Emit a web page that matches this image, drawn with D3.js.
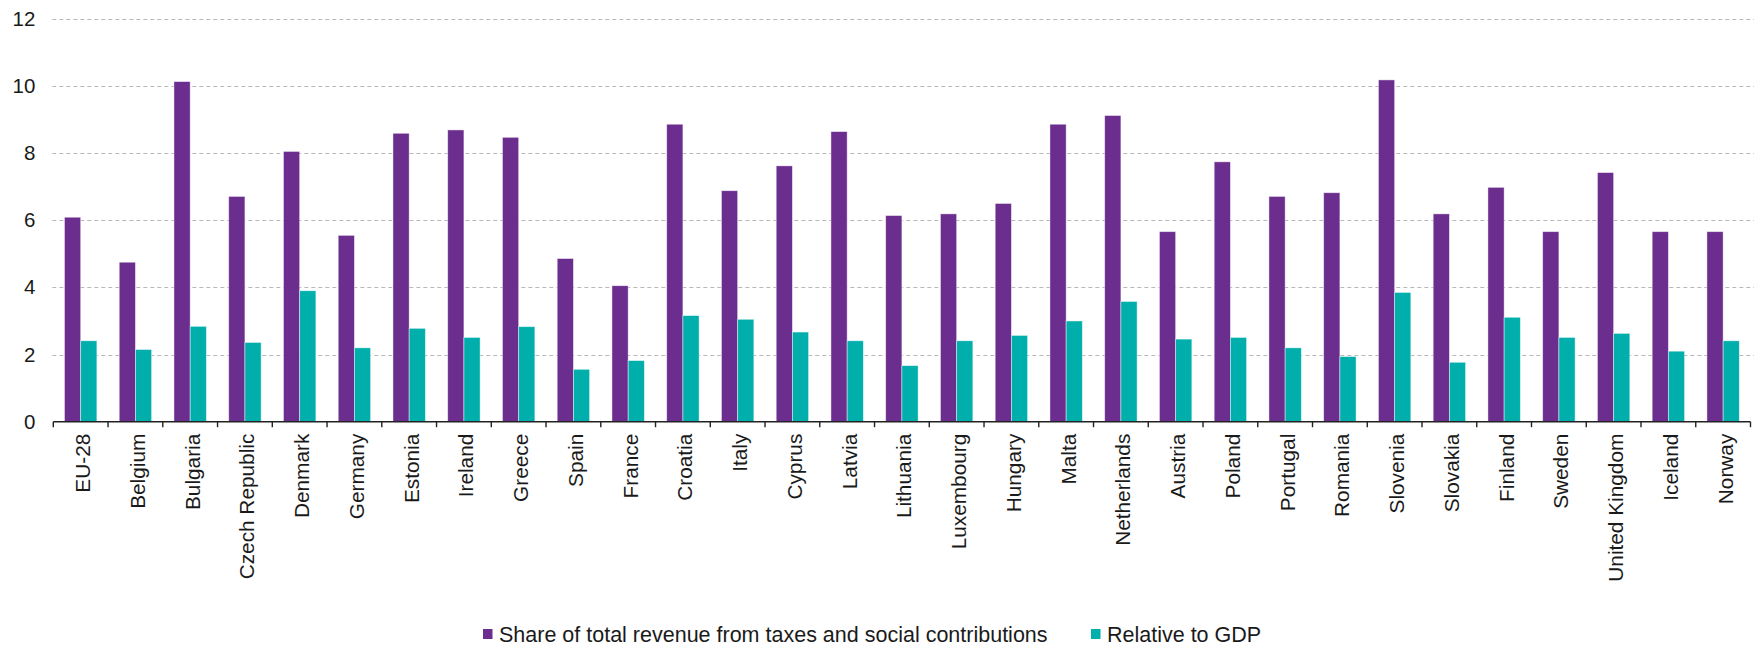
<!DOCTYPE html>
<html>
<head>
<meta charset="utf-8">
<script src="https://cdn.jsdelivr.net/npm/d3@7"></script>
<style>
  html, body { margin: 0; padding: 0; background: #fff; }
  svg { display: block; font-family: "Liberation Sans", Arial, sans-serif; }
</style>
</head>
<body>
<svg id="chart" width="1754" height="647"></svg>
<script>
const categories = ["EU-28","Belgium","Bulgaria","Czech Republic","Denmark","Germany","Estonia","Ireland","Greece","Spain","France","Croatia","Italy","Cyprus","Latvia","Lithuania","Luxembourg","Hungary","Malta","Netherlands","Austria","Poland","Portugal","Romania","Slovenia","Slovakia","Finland","Sweden","United Kingdom","Iceland","Norway"];
const shareOfRevenue = [6.09,4.75,10.13,6.71,8.05,5.55,8.59,8.69,8.47,4.86,4.05,8.86,6.88,7.62,8.64,6.14,6.19,6.50,8.86,9.12,5.66,7.74,6.71,6.82,10.18,6.19,6.98,5.66,7.42,5.66,5.66];
const relativeToGDP = [2.41,2.15,2.84,2.36,3.90,2.20,2.78,2.51,2.83,1.56,1.82,3.16,3.05,2.67,2.41,1.67,2.41,2.57,3.00,3.58,2.46,2.51,2.20,1.94,3.85,1.77,3.11,2.51,2.63,2.10,2.41];
const seriesNames = ["Share of total revenue from taxes and social contributions","Relative to GDP"];
const yTicks = [0,2,4,6,8,10,12];
const colors = ["#6b2d8e","#00aeab"];

const svg = d3.select("#chart");
const mLeft = 53.3, mRight = 1750.5, mTop = 18.8, mBottom = 421.7;

const x0 = d3.scaleBand().domain(categories).range([mLeft, mRight]).padding(0);
const bw = x0.bandwidth();
const groupW = 32.4;
const x1 = d3.scaleBand().domain(seriesNames).range([(bw - groupW) / 2, (bw + groupW) / 2]).padding(0);
const y = d3.scaleLinear().domain([0, 12]).range([mBottom, mTop]);

// gridlines
svg.append("g").selectAll("line")
  .data(yTicks.filter(d => d > 0))
  .join("line")
  .attr("x1", mLeft - 1).attr("x2", 1754)
  .attr("y1", d => Math.round(y(d)) + 0.5).attr("y2", d => Math.round(y(d)) + 0.5)
  .attr("stroke", "#b8b8b8").attr("stroke-width", 1.2)
  .attr("stroke-dasharray", "4,3");

// y axis labels
const yAxis = svg.append("g")
  .attr("transform", `translate(${mLeft - 18},0)`)
  .call(d3.axisLeft(y).tickValues(yTicks).tickSize(0).tickPadding(0));
yAxis.select(".domain").remove();
yAxis.selectAll("text")
  .attr("font-size", "20.5px")
  .attr("font-family", "Liberation Sans, Arial, sans-serif")
  .attr("fill", "#1a1a1a");

// bars
const rows = categories.map((c, i) => ({ cat: c, vals: [shareOfRevenue[i], relativeToGDP[i]] }));
const groups = svg.append("g").selectAll("g")
  .data(rows)
  .join("g")
  .attr("transform", d => `translate(${x0(d.cat)},0)`);
groups.selectAll("rect")
  .data(d => d.vals.map((v, k) => ({ v, k })))
  .join("rect")
  .attr("x", d => x1(seriesNames[d.k]))
  .attr("width", x1.bandwidth())
  .attr("y", d => y(d.v))
  .attr("height", d => y(0) - y(d.v))
  .attr("fill", d => colors[d.k])
  .attr("stroke", "#ffffff")
  .attr("stroke-opacity", 0.55)
  .attr("stroke-width", 0.8);

// x axis line and boundary ticks
const axisG = svg.append("g");
axisG.append("line")
  .attr("x1", mLeft).attr("x2", mRight)
  .attr("y1", mBottom).attr("y2", mBottom)
  .attr("stroke", "#222").attr("stroke-width", 1.6);
const boundaries = categories.map(c => x0(c)).concat([mRight]);
axisG.selectAll("line.tick")
  .data(boundaries)
  .join("line")
  .attr("class", "tick")
  .attr("x1", d => d).attr("x2", d => d)
  .attr("y1", mBottom).attr("y2", mBottom + 5.5)
  .attr("stroke", "#222").attr("stroke-width", 1.4);

// category labels
const xAxis = svg.append("g")
  .attr("transform", `translate(0,${mBottom})`)
  .call(d3.axisBottom(x0).tickSize(0).tickPadding(0));
xAxis.select(".domain").remove();
xAxis.selectAll("text")
  .attr("font-size", "20.8px")
  .attr("font-family", "Liberation Sans, Arial, sans-serif")
  .attr("fill", "#1a1a1a")
  .attr("text-anchor", "end")
  .attr("transform", "translate(2,12) rotate(-90)")
  .attr("x", 0).attr("y", 0).attr("dy", "0.36em");

// legend
const legend = svg.append("g").attr("transform", "translate(0,634)");
const legendX = [483, 1091];
seriesNames.forEach((name, k) => {
  const g = legend.append("g").attr("transform", `translate(${legendX[k]},0)`);
  g.append("rect").attr("x", 0).attr("y", -5).attr("width", 9.5).attr("height", 10).attr("fill", colors[k]);
  g.append("text").attr("x", 16).attr("y", 0).attr("dy", "0.35em")
    .attr("font-size", "21.5px").attr("fill", "#1a1a1a")
    .text(name);
});
</script>
</body>
</html>
